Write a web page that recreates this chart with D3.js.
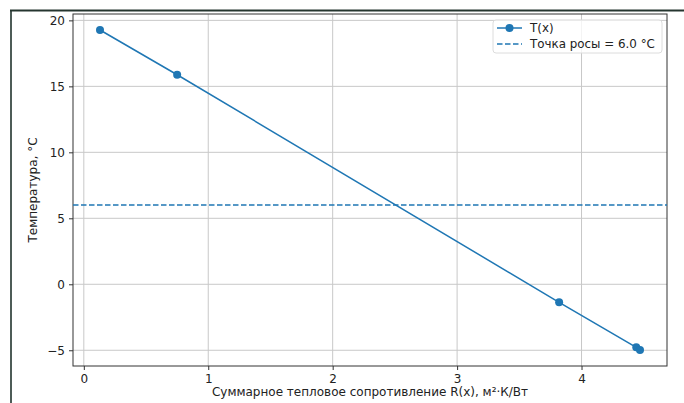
<!DOCTYPE html>
<html>
<head>
<meta charset="utf-8">
<title>T(x)</title>
<script src="https://cdn.jsdelivr.net/npm/d3@7"></script>
<style>
  body { margin: 0; background: #fff; }
  text { font-family: "DejaVu Sans", sans-serif; fill: #222; }
  .grid line { stroke: #c8c8c8; stroke-width: 1; }
</style>
</head>
<body>
<script>
// данные
var resist = [0.13, 0.75, 3.82, 4.44, 4.47];
var temps = [19.27, 15.88, -1.37, -4.78, -4.98];
var dewPoint = 6.0;
var xTicks = [0, 1, 2, 3, 4];
var yTicks = [-5, 0, 5, 10, 15, 20];
var xLabel = "Суммарное тепловое сопротивление R(x), м²·К/Вт";
var yLabel = "Температура, °C";
var legendLabels = ["T(x)", "Точка росы = " + dewPoint.toFixed(1) + " °C"];

var W = 684, H = 403;
var pL = 73, pR = 667, pT = 14, pB = 366;
var blue = "#1f77b4";

var svg = d3.select("body").append("svg").attr("width", W).attr("height", H);

// рамка скриншота
svg.append("line").attr("x1", 11).attr("x2", 11).attr("y1", 10).attr("y2", H)
  .attr("stroke", "#4d5c57").attr("stroke-width", 2);
svg.append("line").attr("x1", 10).attr("x2", W).attr("y1", 10.5).attr("y2", 10.5)
  .attr("stroke", "#25352f").attr("stroke-width", 2);

function pad(ext) { var r = ext[1] - ext[0]; return [ext[0] - 0.05 * r, ext[1] + 0.05 * r]; }
var x = d3.scaleLinear().domain(pad(d3.extent(resist))).range([pL, pR]);
var y = d3.scaleLinear().domain(pad(d3.extent(temps))).range([pB, pT]);

// сетка
var g = svg.append("g").attr("class", "grid");
g.selectAll(".gx").data(xTicks).enter().append("line")
  .attr("x1", d => x(d)).attr("x2", d => x(d)).attr("y1", pT).attr("y2", pB);
g.selectAll(".gy").data(yTicks).enter().append("line")
  .attr("y1", d => y(d)).attr("y2", d => y(d)).attr("x1", pL).attr("x2", pR);

// оси
var xa = svg.append("g").attr("transform", "translate(0," + pB + ")")
  .call(d3.axisBottom(x).tickValues(xTicks).tickSize(4).tickPadding(4).tickFormat(d3.format("d")));
var ya = svg.append("g").attr("transform", "translate(" + pL + ",0)")
  .call(d3.axisLeft(y).tickValues(yTicks).tickSize(4).tickPadding(4)
    .tickFormat(d => d < 0 ? "\u2212" + Math.abs(d) : d));
[xa, ya].forEach(function(a) {
  a.select(".domain").remove();
  a.selectAll("text").style("font-size", "12px").style("font-family", "DejaVu Sans").attr("fill", "#222");
  a.selectAll("line").attr("stroke", "#333");
});

svg.append("rect").attr("x", pL).attr("y", pT).attr("width", pR - pL).attr("height", pB - pT)
  .attr("fill", "none").attr("stroke", "#333").attr("stroke-width", 1);

// линия точки росы
svg.append("line").attr("x1", pL).attr("x2", pR).attr("y1", y(dewPoint)).attr("y2", y(dewPoint))
  .attr("stroke", blue).attr("stroke-width", 1.5).attr("stroke-dasharray", "5.5,2.5");

// T(x)
var line = d3.line().x((d, i) => x(resist[i])).y(d => y(d));
svg.append("path").datum(temps).attr("d", line).attr("fill", "none")
  .attr("stroke", blue).attr("stroke-width", 1.5);
svg.selectAll(".pt").data(temps).enter().append("circle")
  .attr("cx", (d, i) => x(resist[i])).attr("cy", d => y(d)).attr("r", 4).attr("fill", blue);

// подписи осей
svg.append("text").attr("x", (pL + pR) / 2).attr("y", 396).attr("text-anchor", "middle")
  .style("font-size", "12px").text(xLabel);
svg.append("text").attr("transform", "translate(37," + ((pT + pB) / 2) + ") rotate(-90)")
  .attr("text-anchor", "middle").style("font-size", "12px").text(yLabel);

// легенда
var lg = svg.append("g");
var box = lg.append("rect").attr("x", 493).attr("y", 20).attr("width", 169).attr("height", 33).attr("rx", 3)
  .attr("fill", "#fff").attr("fill-opacity", 0.8).attr("stroke", "#dcdcdc");
lg.append("line").attr("x1", 497).attr("x2", 522).attr("y1", 28).attr("y2", 28)
  .attr("stroke", blue).attr("stroke-width", 1.5);
lg.append("circle").attr("cx", 509.5).attr("cy", 28).attr("r", 4).attr("fill", blue);
lg.append("line").attr("x1", 497).attr("x2", 522).attr("y1", 44).attr("y2", 44)
  .attr("stroke", blue).attr("stroke-width", 1.5).attr("stroke-dasharray", "5.5,2.5");
var lt = lg.selectAll(".lt").data(legendLabels).enter().append("text")
  .attr("x", 530).attr("y", (d, i) => 28 + i * 16).attr("dy", "0.35em")
  .style("font-size", "12px").text(d => d);
// подгоняем размер шрифта легенды под ширину подписи на исходнике (~125 px)
var wLong = lt.nodes()[1].getComputedTextLength();
if (wLong > 0) lt.style("font-size", (12 * 125 / wLong).toFixed(2) + "px");
</script>
</body>
</html>
